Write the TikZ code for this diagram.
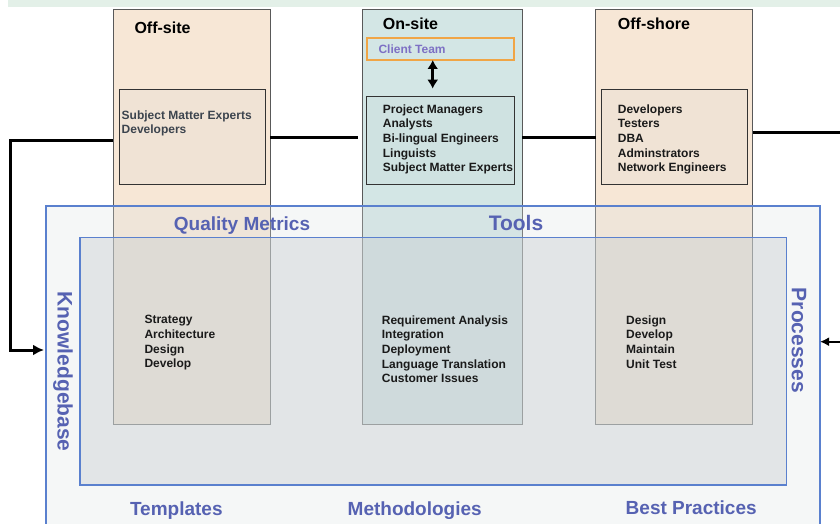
\documentclass[tikz,border=0pt]{standalone}
\usepackage{fontspec}
\setmainfont{Liberation Sans}
\usetikzlibrary{arrows.meta}

\definecolor{peach}{RGB}{247,231,214}
\definecolor{peachbox}{RGB}{240,227,213}
\definecolor{seafoam}{RGB}{211,230,229}
\definecolor{seafoambox}{RGB}{207,226,225}
\definecolor{bandgreen}{RGB}{227,240,232}
\definecolor{framecol}{RGB}{90,128,206}
\definecolor{labelcol}{RGB}{86,98,178}
\definecolor{clientcol}{RGB}{125,112,196}
\definecolor{clientframe}{RGB}{240,165,70}
\definecolor{outerfill}{RGB}{219,226,226}
\definecolor{innerfill}{RGB}{200,206,209}
\definecolor{roletext}{RGB}{26,26,26}
\definecolor{greytext}{RGB}{60,68,78}

\tikzset{
  column/.style={draw=black!65, line width=0.8pt, inner sep=0pt, outer sep=0pt},
  rolebox/.style={draw=black!80, line width=0.9pt, inner sep=0pt, outer sep=0pt},
  sitetitle/.style={font=\fontsize{16}{18}\selectfont\bfseries, anchor=base west, inner sep=0pt},
  roles/.style={font=\fontsize{12}{14.65}\selectfont\bfseries, align=left, anchor=north west,
    inner sep=0pt, text=roletext},
  practice/.style={font=\fontsize{19}{21}\selectfont\bfseries, text=labelcol, anchor=base, inner sep=0pt},
  pillar/.style={font=\fontsize{21}{23}\selectfont\bfseries, text=labelcol, inner sep=0pt},
  frame/.style={draw=framecol, line width=1.5pt, inner sep=0pt, outer sep=0pt},
  link/.style={line width=3pt},
}

\begin{document}
\begin{tikzpicture}[x=1pt,y=-1pt]
  \useasboundingbox (0,0) rectangle (840,524);
  \clip (0,0) rectangle (840,524);

  \fill[bandgreen] (8,0) rectangle (840,6.7);

  % the three sites
  \node[column, fill=peach, minimum width=157pt, minimum height=415pt] (offsite) at (191.5,216.5) {};
  \node[column, fill=seafoam, minimum width=160pt, minimum height=415pt] (onsite) at (442.3,216.5) {};
  \node[column, fill=peach, minimum width=157pt, minimum height=415pt] (offshore) at (674.2,216.5) {};

  \node[sitetitle] (offsitetitle) at (134.3,33.3) {Off-site};
  \node[sitetitle] (onsitetitle) at (382.7,29.3) {On-site};
  \node[sitetitle] (offshoretitle) at (617.7,29.3) {Off-shore};

  \node[rolebox, fill=peachbox, minimum width=146.4pt, minimum height=94.7pt] (experts) at (192.5,136.7) {};
  \node[draw=clientframe, line width=1.8pt, fill=seafoam, inner sep=0pt, outer sep=0pt,
    minimum width=147.3pt, minimum height=22.3pt] (client) at (440.35,48.85) {};
  \node[rolebox, fill=seafoambox, minimum width=147.3pt, minimum height=87.6pt] (staff) at (440.35,140.5) {};
  \node[rolebox, fill=peachbox, minimum width=146.4pt, minimum height=95pt] (devteam) at (674.5,136.8) {};

  \node[font=\fontsize{12}{14}\selectfont\bfseries, text=clientcol, anchor=base west, inner sep=0pt]
    (clientlabel) at (378.3,53.3) {Client Team};

  \node[roles, text=greytext] (expertlist) at (121.5,110.3) {Subject Matter Experts\\Developers};
  \node[roles] (stafflist) at (382.7,104.3) {Project Managers\\Analysts\\Bi-lingual Engineers\\Linguists\\Subject Matter Experts};
  \node[roles] (devlist) at (617.7,104.3) {Developers\\Testers\\DBA\\Adminstrators\\Network Engineers};

  % practice frames
  \node[frame, fill=outerfill, fill opacity=0.28, minimum width=774pt, minimum height=334pt] (outer) at (433,373) {};
  \node[frame, fill=innerfill, fill opacity=0.42, minimum width=706.7pt, minimum height=247.3pt] (inner) at (433.35,361.35) {};

  \node[roles] (offsitework) at (144.3,315.3) {Strategy\\Architecture\\Design\\Develop};
  \node[roles] (onsitework) at (381.7,315.3) {Requirement Analysis\\Integration\\Deployment\\Language Translation\\Customer Issues};
  \node[roles] (offshorework) at (626,315.3) {Design\\Develop\\Maintain\\Unit Test};

  \node[practice] (metrics) at (242,230) {Quality Metrics};
  \node[pillar, anchor=base] (tools) at (516,230.7) {Tools};
  \node[practice] (templates) at (176.3,515.7) {Templates};
  \node[practice] (methods) at (414.7,515.7) {Methodologies};
  \node[practice] (bestpractice) at (691.2,514) {Best Practices};
  \node[pillar, rotate=-90] (knowledge) at (63,371.7) {Knowledgebase};
  \node[pillar, rotate=-90] (processes) at (799,340.5) {Processes};

  % connectors
  \coordinate (upper) at (0,137.7);
  \coordinate (kneeA) at (10,140);
  \coordinate (kneeB) at (10,350);
  \coordinate (exitR) at (840,132.7);
  \coordinate (entryR) at (840,341.7);
  \coordinate (dblx) at (432.7,0);

  \draw[link, shorten >=4pt] (offsite.east |- upper) -- (onsite.west |- upper);
  \draw[link] (onsite.east |- upper) -- (offshore.west |- upper);
  \draw[link] (offshore.east |- exitR) -- (exitR);
  \draw[link, -{Latex[length=11pt,width=11pt]}, shorten >=2pt]
    (offsite.west |- kneeA) -- (kneeA) -- (kneeB) -- (outer.west |- kneeB);
  \draw[line width=2.2pt, -{Latex[length=9pt,width=9pt]}] (entryR) -- (outer.east |- entryR);
  \draw[line width=3.2pt, {Latex[length=9pt,width=11pt]}-{Latex[length=9pt,width=11pt]}, shorten >=8pt]
    (client.south -| dblx) -- (staff.north -| dblx);
\end{tikzpicture}
\end{document}
